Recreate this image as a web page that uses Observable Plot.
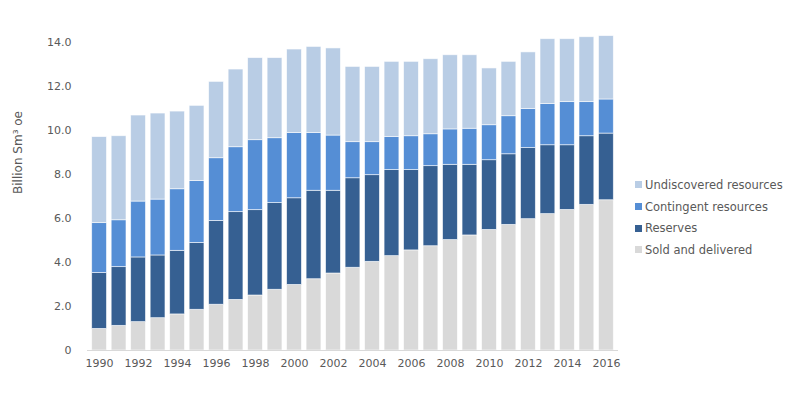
<!DOCTYPE html>
<html>
<head>
<meta charset="utf-8">
<script src="https://cdn.jsdelivr.net/npm/d3@7"></script>
<script src="https://cdn.jsdelivr.net/npm/@observablehq/plot@0.6"></script>
<style>
  body { margin: 0; background: #fff; }
  #wrap { position: relative; width: 785px; height: 393px; font-family: "DejaVu Sans", Verdana, sans-serif; }
  #legend { position: absolute; left: 635px; top: 174px; font-size: 11.5px; color: #595959; }
  .item { display: flex; align-items: center; height: 21.7px; white-space: nowrap; }
  .sw { width: 7px; height: 7px; margin-right: 3px; }
</style>
</head>
<body>
<div id="wrap"><div id="legend"></div></div>
<script>
const years = [1990,1991,1992,1993,1994,1995,1996,1997,1998,1999,2000,2001,2002,2003,2004,2005,2006,2007,2008,2009,2010,2011,2012,2013,2014,2015,2016];
const seriesNames = ["Sold and delivered", "Reserves", "Contingent resources", "Undiscovered resources"];
const seriesColors = ["#d9d9d9", "#366092", "#558ed5", "#b9cde5"];
const sold         = [0.98,1.12,1.29,1.47,1.64,1.85,2.08,2.30,2.50,2.76,2.98,3.24,3.50,3.76,4.03,4.29,4.55,4.74,5.02,5.23,5.48,5.71,5.97,6.20,6.39,6.62,6.83];
const reserves     = [2.54,2.67,2.94,2.85,2.89,3.04,3.81,3.99,3.88,3.94,3.94,4.02,3.76,4.07,3.94,3.91,3.65,3.64,3.42,3.21,3.17,3.21,3.23,3.13,2.94,3.12,3.03];
const contingent   = [2.27,2.13,2.54,2.54,2.80,2.81,2.85,2.95,3.18,2.95,2.97,2.63,2.51,1.64,1.50,1.50,1.54,1.45,1.61,1.64,1.59,1.73,1.78,1.87,1.96,1.55,1.55];
const undiscovered = [3.91,3.82,3.91,3.91,3.53,3.42,3.47,3.53,3.73,3.64,3.79,3.91,3.96,3.42,3.42,3.42,3.38,3.41,3.37,3.34,2.58,2.47,2.57,2.95,2.86,2.95,2.88];
const yTicks = [0,2,4,6,8,10,12,14];
const xTicks = [1990,1992,1994,1996,1998,2000,2002,2004,2006,2008,2010,2012,2014,2016];
const yLabel = "Billion Sm³ oe";

const seriesValues = [sold, reserves, contingent, undiscovered];
const data = [];
seriesNames.forEach((s, si) => years.forEach((y, i) => data.push({year: y, series: s, value: seriesValues[si][i]})));

const chart = Plot.plot({
  width: 785,
  height: 393,
  marginLeft: 87,
  marginRight: 167,
  marginTop: 31,
  marginBottom: 43,
  style: {fontFamily: '"DejaVu Sans", Verdana, sans-serif', fontSize: "11px", color: "#595959", background: "transparent"},
  x: {type: "band", domain: years, padding: 0.24, round: false, label: null},
  y: {domain: [0, 14.5], label: null},
  color: {domain: seriesNames, range: seriesColors},
  marks: [
    Plot.barY(data, {x: "year", y: "value", fill: "series", stroke: "#ffffff", strokeOpacity: 0.7, strokeWidth: 0.8}),
    Plot.ruleY([0], {stroke: "#d9d9d9", strokeWidth: 1}),
    Plot.axisY({ticks: yTicks, tickSize: 0, tickPadding: 16, tickFormat: d => d === 0 ? "0" : d.toFixed(1), label: null, fill: "#595959", fontSize: 11}),
    Plot.axisX({ticks: xTicks, tickSize: 0, tickPadding: 9, tickFormat: d => String(d), label: null, fill: "#595959", fontSize: 11}),
    Plot.text([yLabel], {frameAnchor: "left", text: d => d, rotate: -90, dx: -69, dy: 3, fill: "#595959", fontSize: 12})
  ]
});
document.getElementById("wrap").prepend(chart);

const legend = document.getElementById("legend");
for (let i = seriesNames.length - 1; i >= 0; i--) {
  const it = document.createElement("div");
  it.className = "item";
  const sw = document.createElement("span");
  sw.className = "sw";
  sw.style.background = seriesColors[i];
  const tx = document.createElement("span");
  tx.textContent = seriesNames[i];
  it.appendChild(sw); it.appendChild(tx);
  legend.appendChild(it);
}
</script>
</body>
</html>
